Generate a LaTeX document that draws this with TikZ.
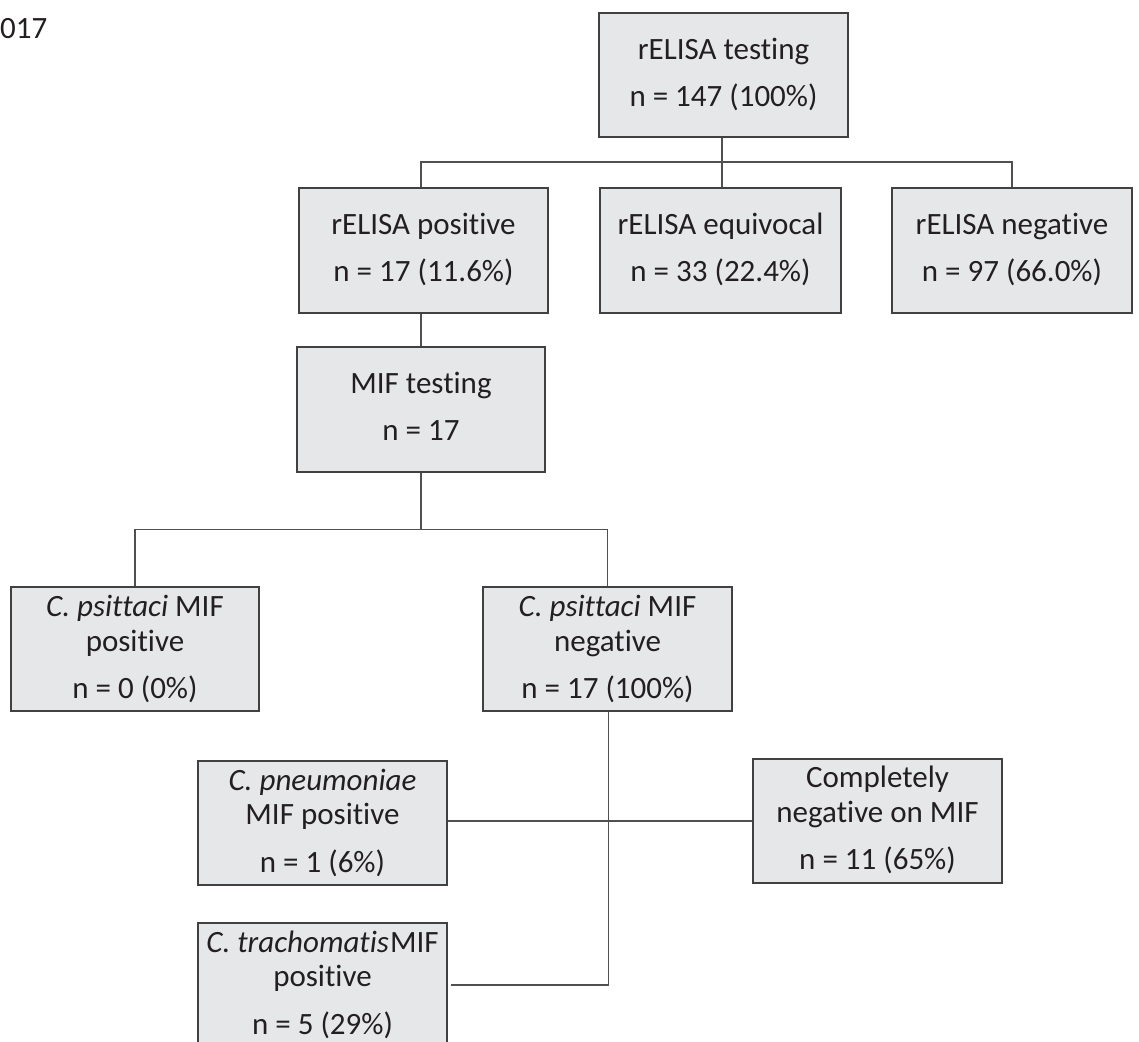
\documentclass[tikz,border=0pt]{standalone}
\usepackage{fontspec}
\setmainfont{Carlito}[Ligatures=NoCommon]
\usetikzlibrary{calc}
\definecolor{boxfill}{RGB}{230,231,233}
\definecolor{boxline}{RGB}{65,65,65}
\definecolor{conline}{RGB}{80,80,80}
\definecolor{txt}{RGB}{35,31,32}
\tikzset{
  bx/.style={draw=boxline, line width=1.3pt, fill=boxfill, rectangle, inner sep=0pt},
  tx/.style={anchor=base, inner sep=0pt, text=txt, font=\fontsize{31}{36}\selectfont},
  con/.style={draw=conline, line width=1.1pt}
}
\begin{document}
\begin{tikzpicture}[x=1pt,y=-1pt]
\useasboundingbox (0,0) rectangle (1139,1041);
\clip (0,0) rectangle (1139,1041);
\fill[white] (0,0) rectangle (1139,1041);
\node[tx, anchor=base west, font=\fontsize{31}{36}\selectfont] (yr) at (0,38) {017};
% boxes
\node[bx, minimum width=249pt, minimum height=124pt] (top) at (723.5,75) {};
\node[bx, minimum width=249pt, minimum height=125pt] (pos) at (423.5,250.5) {};
\node[bx, minimum width=241pt, minimum height=125pt] (equ) at (720.5,250.5) {};
\node[bx, minimum width=240pt, minimum height=125pt] (neg) at (1012,250.5) {};
\node[bx, minimum width=248pt, minimum height=125pt] (mif) at (421,409.5) {};
\node[bx, minimum width=248pt, minimum height=124pt] (cpp) at (135,649) {};
\node[bx, minimum width=249pt, minimum height=124pt] (cpn) at (607.5,649) {};
\node[bx, minimum width=249pt, minimum height=124pt] (pnm) at (322.5,823) {};
\node[bx, minimum width=249pt, minimum height=124pt] (cneg) at (877.5,821) {};
\node[bx, minimum width=249pt, minimum height=124pt] (tra) at (322.5,985) {};
% texts
\node[tx] (topa) at ($(top.north)+(0,47)$) {rELISA testing};
\node[tx] (topb) at ($(top.north)+(0,94)$) {n = 147 (100\%)};
\node[tx] (posa) at ($(pos.north)+(0,47)$) {rELISA positive};
\node[tx] (posb) at ($(pos.north)+(0,94)$) {n = 17 (11.6\%)};
\node[tx] (equa) at ($(equ.north)+(0,47)$) {rELISA equivocal};
\node[tx] (equb) at ($(equ.north)+(0,94)$) {n = 33 (22.4\%)};
\node[tx] (nega) at ($(neg.north)+(0,47)$) {rELISA negative};
\node[tx] (negb) at ($(neg.north)+(0,94)$) {n = 97 (66.0\%)};
\node[tx] (mifa) at ($(mif.north)+(0,47)$) {MIF testing};
\node[tx] (mifb) at ($(mif.north)+(0,94)$) {n = 17};
\node[tx] (cppa) at ($(cpp.north)+(0,30)$) {\textit{C. psittaci} MIF};
\node[tx] (cppb) at ($(cpp.north)+(0,65)$) {positive};
\node[tx] (cppc) at ($(cpp.north)+(0,112)$) {n = 0 (0\%)};
\node[tx] (cpna) at ($(cpn.north)+(0,30)$) {\textit{C. psittaci} MIF};
\node[tx] (cpnb) at ($(cpn.north)+(0,65)$) {negative};
\node[tx] (cpnc) at ($(cpn.north)+(0,112)$) {n = 17 (100\%)};
\node[tx] (pnma) at ($(pnm.north)+(0,30)$) {\textit{C. pneumoniae}};
\node[tx] (pnmb) at ($(pnm.north)+(0,64)$) {MIF positive};
\node[tx] (pnmc) at ($(pnm.north)+(0,112)$) {n = 1 (6\%)};
\node[tx] (cnega) at ($(cneg.north)+(0,29)$) {Completely};
\node[tx] (cnegb) at ($(cneg.north)+(0,64)$) {negative on MIF};
\node[tx] (cnegc) at ($(cneg.north)+(0,111)$) {n = 11 (65\%)};
\node[tx] (traa) at ($(tra.north)+(0,30)$) {\textit{C. trachomatis}\hspace{1pt}MIF};
\node[tx] (trab) at ($(tra.north)+(0,64)$) {positive};
\node[tx] (trac) at ($(tra.north)+(0,112)$) {n = 5 (29\%)};
% junctions
\coordinate (j1) at (722,162);
\coordinate (p1) at (421,162);
\coordinate (j2) at (421,529.5);
\coordinate (j3) at (608.5,985);
\coordinate (j4) at (608.5,821);
% connectors
\draw[con] (top.south -| j1) -- (equ.north -| j1);
\draw[con] (pos.north -| p1) -- (p1) -| (neg.north);
\draw[con] (pos.south -| p1) -- (mif.north -| p1);
\draw[con] (mif.south) -- (j2);
\draw[con] (cpp.north) |- (j2) -| (cpn.north);
\draw[con] (cpn.south -| j3) -- (j3);
\draw[con] (j3) -- ($(tra.east)+(3,0)$);
\draw[con] (pnm.east |- j4) -- (cneg.west |- j4);
\end{tikzpicture}
\end{document}
